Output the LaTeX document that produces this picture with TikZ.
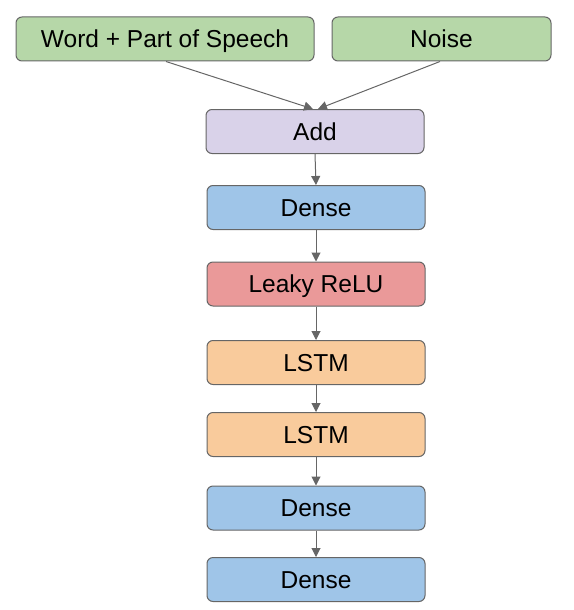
\documentclass[tikz,border=0pt]{standalone}
\usepackage{fontspec}
\setmainfont{Liberation Sans}
\usetikzlibrary{arrows.meta}
\definecolor{cgreen}{HTML}{B6D7A8}
\definecolor{cpurple}{HTML}{D9D2E9}
\definecolor{cblue}{HTML}{9FC5E8}
\definecolor{cred}{HTML}{EA9999}
\definecolor{corange}{HTML}{F9CB9C}
\definecolor{cline}{HTML}{666666}
\begin{document}
\begin{tikzpicture}[x=1pt,y=-1pt,
  layer/.style={draw=cline,line width=1pt,rounded corners=6pt,minimum height=44pt,inner sep=0pt,text height=17.5pt,text depth=0pt,font=\fontsize{24.5}{28}\selectfont,text=black},
  conn/.style={draw=cline,line width=1pt,-{Triangle[length=9pt,width=9pt]}}]
\useasboundingbox (0,0) rectangle (573,610);
\node[layer,fill=cgreen,minimum width=298pt] (wp) at (165,39) {Word + Part of Speech};
\node[layer,fill=cgreen,minimum width=219pt] (noise) at (441.5,39) {Noise};
\node[layer,fill=cpurple,minimum width=218pt] (add) at (315,131.5) {Add};
\node[layer,fill=cblue,minimum width=218pt] (d1) at (316,207.5) {Dense};
\node[layer,fill=cred,minimum width=218pt] (lr) at (316,284) {Leaky ReLU};
\node[layer,fill=corange,minimum width=218pt] (l1) at (316,362.5) {LSTM};
\node[layer,fill=corange,minimum width=218pt] (l2) at (316,434.5) {LSTM};
\node[layer,fill=cblue,minimum width=218pt] (d2) at (316,508) {Dense};
\node[layer,fill=cblue,minimum width=218pt] (d3) at (316,579.5) {Dense};
\coordinate (t1) at (313,109);
\coordinate (t2) at (318,109);
\draw[conn] (166,61.5) -- (t1);
\draw[conn] (440,61.5) -- (t2);
\draw[conn] (add.south) -- (d1.north);
\draw[conn] (d1) -- (lr);
\draw[conn] (lr) -- (l1);
\draw[conn] (l1) -- (l2);
\draw[conn] (l2) -- (d2);
\draw[conn] (d2) -- (d3);
\end{tikzpicture}
\end{document}
